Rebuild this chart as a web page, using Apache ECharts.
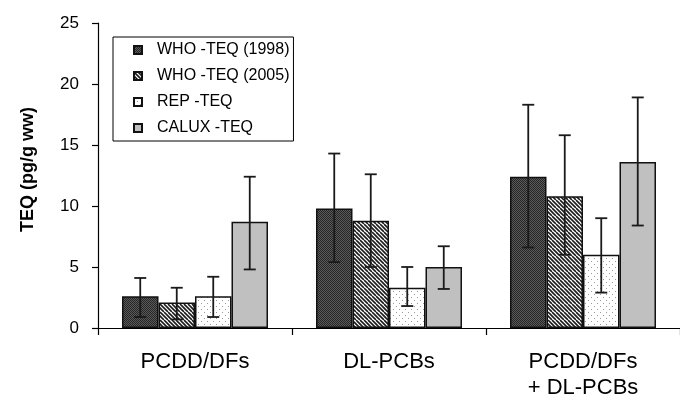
<!DOCTYPE html>
<html>
<head>
<meta charset="utf-8">
<script src="https://cdn.jsdelivr.net/npm/echarts@6/dist/echarts.min.js"></script>
<style>
  html, body { margin: 0; padding: 0; background: #fff; }
  #main { width: 680px; height: 403px; }
</style>
</head>
<body>
<div id="main"></div>
<script>
var categories = ['PCDD/DFs', 'DL-PCBs', 'PCDD/DFs\n+ DL-PCBs'];
var seriesNames = ['WHO -TEQ (1998)', 'WHO -TEQ (2005)', 'REP -TEQ', 'CALUX -TEQ'];

var who1998 = [2.6, 9.8, 12.4];
var who1998Low = [0.9, 5.4, 6.6];
var who1998High = [4.1, 14.3, 18.3];

var who2005 = [2.1, 8.8, 10.8];
var who2005Low = [0.7, 5.0, 6.0];
var who2005High = [3.3, 12.6, 15.8];

var rep = [2.6, 3.3, 6.0];
var repLow = [0.9, 1.8, 2.9];
var repHigh = [4.2, 5.0, 9.0];

var calux = [8.7, 5.0, 13.6];
var caluxLow = [4.8, 3.2, 8.4];
var caluxHigh = [12.4, 6.7, 18.9];

var yTicks = [0, 5, 10, 15, 20, 25];

// fill patterns
function makePattern(size, draw) {
  var c = document.createElement('canvas');
  c.width = size; c.height = size;
  var ctx = c.getContext('2d');
  draw(ctx, size);
  return { image: c, repeat: 'repeat' };
}

var darkPattern = makePattern(2, function (ctx) {
  ctx.fillStyle = '#5a5a5a';
  ctx.fillRect(0, 0, 2, 2);
  ctx.fillStyle = '#262626';
  ctx.fillRect(0, 0, 1, 1);
  ctx.fillRect(1, 1, 1, 1);
});

var stripePattern = makePattern(8, function (ctx, s) {
  ctx.fillStyle = '#fff';
  ctx.fillRect(0, 0, s, s);
  ctx.strokeStyle = '#1a1a1a';
  ctx.lineWidth = 1.6;
  for (var k = -2; k <= 2; k++) {
    ctx.beginPath();
    ctx.moveTo(k * 4, 0);
    ctx.lineTo(k * 4 + s, s);
    ctx.stroke();
  }
});

var dotPattern = makePattern(6, function (ctx) {
  ctx.fillStyle = '#fff';
  ctx.fillRect(0, 0, 6, 6);
  ctx.fillStyle = '#9a9a9a';
  ctx.fillRect(0, 0, 1, 1);
  ctx.fillRect(3, 3, 1, 1);
});

var fills = [darkPattern, stripePattern, dotPattern, '#c0c0c0'];
var values = [who1998, who2005, rep, calux];
var lows = [who1998Low, who2005Low, repLow, caluxLow];
var highs = [who1998High, who2005High, repHigh, caluxHigh];

var barWidth = 36.5;

var chart = echarts.init(document.getElementById('main'));

var series = [];
values.forEach(function (vals, i) {
  series.push({
    name: seriesNames[i],
    type: 'bar',
    data: vals,
    barWidth: barWidth,
    barGap: '0%',
    itemStyle: {
      color: fills[i],
      borderColor: '#111',
      borderWidth: 1.5
    },
    z: 2
  });
});

values.forEach(function (vals, i) {
  var offset = (i - 1.5) * barWidth;
  series.push({
    type: 'custom',
    z: 5,
    silent: true,
    data: categories.map(function (c, j) { return [j, lows[i][j], highs[i][j]]; }),
    encode: { x: 0, y: [1, 2] },
    renderItem: function (params, api) {
      var j = api.value(0);
      var lo = api.coord([j, api.value(1)]);
      var hi = api.coord([j, api.value(2)]);
      var x = lo[0] + offset;
      var cap = 6;
      var style = { stroke: '#1a1a1a', lineWidth: 1.8 };
      return {
        type: 'group',
        children: [
          { type: 'line', shape: { x1: x, y1: lo[1], x2: x, y2: hi[1] }, style: style },
          { type: 'line', shape: { x1: x - cap, y1: hi[1], x2: x + cap, y2: hi[1] }, style: style },
          { type: 'line', shape: { x1: x - cap, y1: lo[1], x2: x + cap, y2: lo[1] }, style: style }
        ]
      };
    }
  });
});

var option = {
  animation: false,
  backgroundColor: '#fff',
  textStyle: { fontFamily: 'Liberation Sans, Arial, sans-serif' },
  grid: { left: 98, right: -6, top: 23, bottom: 75 },
  legend: {
    data: seriesNames,
    orient: 'vertical',
    left: 113,
    top: 37,
    padding: [5, 4, 5, 20],
    itemGap: 10,
    itemWidth: 8,
    itemHeight: 8,
    icon: 'rect',
    backgroundColor: '#fff',
    borderColor: '#000',
    borderWidth: 1,
    textStyle: {
      fontSize: 16,
      color: '#000',
      lineHeight: 16,
      padding: [0, 0, 0, 10]
    }
  },
  xAxis: {
    type: 'category',
    data: categories,
    axisLine: { lineStyle: { color: '#000', width: 1.2 } },
    axisTick: { show: true, length: 7, lineStyle: { color: '#000', width: 1.2 } },
    axisLabel: { color: '#000', fontSize: 22, lineHeight: 26, margin: 21, interval: 0 },
    splitLine: { show: false }
  },
  yAxis: {
    type: 'value',
    min: yTicks[0],
    max: yTicks[yTicks.length - 1],
    interval: 5,
    name: 'TEQ (pg/g ww)',
    nameLocation: 'middle',
    nameGap: 61,
    nameTextStyle: { fontSize: 18, fontWeight: 'bold', color: '#000', padding: [0, 0, 0, 12] },
    axisLine: { show: true, lineStyle: { color: '#000', width: 1.2 } },
    axisTick: { show: true, length: 6, lineStyle: { color: '#000', width: 1.2 } },
    axisLabel: { color: '#000', fontSize: 17, margin: 19 },
    splitLine: { show: false }
  },
  series: series
};

chart.setOption(option);
</script>
</body>
</html>
